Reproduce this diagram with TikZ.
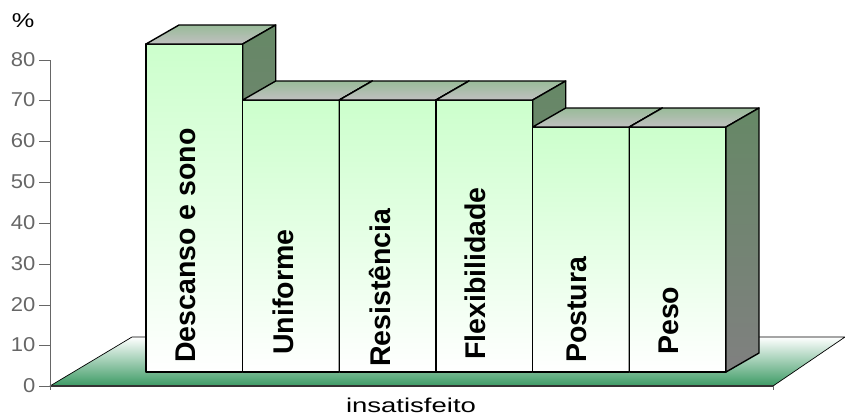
\documentclass[tikz,border=0pt]{standalone}
\usepackage{fontspec}
\setmainfont{Liberation Sans}
\usepackage{tikz}

\definecolor{barfront}{HTML}{CCFFCC}
\definecolor{bartop}{HTML}{99BB99}
\definecolor{bartoplow}{HTML}{C0C0C0}
\definecolor{barside}{HTML}{668866}
\definecolor{barsidelow}{HTML}{808080}
\definecolor{floorgreen}{HTML}{3C9A64}

\begin{document}
\begin{tikzpicture}[x=1pt,y=-1pt,
  face/.style={draw=black,line width=1.4pt,line join=round},
  front/.style={face,top color=barfront,bottom color=white},
  topface/.style={face,top color=bartop,bottom color=bartoplow},
  side/.style={face,top color=barside,bottom color=barsidelow},
  ticklabel/.style={font=\fontsize{20}{22}\selectfont,xscale=1.1,anchor=east,inner sep=0pt},
  barlabel/.style={font=\bfseries\fontsize{28.5}{32}\selectfont,rotate=90,anchor=base west,inner sep=0pt}]
\useasboundingbox (0,0) rectangle (845,416);

% floor
\begin{scope}
\clip (0,0) rectangle (845,416);
\draw[line width=0.7pt,top color=white,bottom color=floorgreen] (50,386) -- (132,337) -- (845,337) -- (773,386) -- cycle;
\end{scope}
\draw[line width=1.2pt,black!80] (50,386) -- (773,386);
\draw[line width=1pt,black!60] (773,386) -- (773,390);

% value axis
\draw[line width=1pt,black!60] (50,60) -- (50,390);
\foreach \v/\y in {0/386,10/345,20/305,30/264,40/223,50/182,60/141,70/100,80/60}
  \draw[line width=1pt,black!60] (39,\y) -- (50,\y) node[ticklabel] (t\v) at (36,\y) {\v};
\node[ticklabel,anchor=center,xscale=1.15] (pct) at (23,21) {\%};

% bars
\draw[front] (146,372) rectangle (242.7,44);
\draw[topface] (146,44) -- ++(33,-19) -- ++(96.7,0) -- ++(-33,19) -- cycle;
\draw[side] (242.7,44) -- ++(33,-19) -- (275.7,353) -- (242.7,372) -- cycle;

\draw[front] (242.7,372) rectangle (339.3,100);
\draw[topface] (242.7,100) -- ++(33,-19) -- ++(96.6,0) -- ++(-33,19) -- cycle;
\draw[side] (339.3,100) -- ++(33,-19) -- (372.3,353) -- (339.3,372) -- cycle;

\draw[front] (339.3,372) rectangle (436,100);
\draw[topface] (339.3,100) -- ++(33,-19) -- ++(96.7,0) -- ++(-33,19) -- cycle;
\draw[side] (436,100) -- ++(33,-19) -- (469,353) -- (436,372) -- cycle;

\draw[front] (436,372) rectangle (532.7,100);
\draw[topface] (436,100) -- ++(33,-19) -- ++(96.7,0) -- ++(-33,19) -- cycle;
\draw[side] (532.7,100) -- ++(33,-19) -- (565.7,353) -- (532.7,372) -- cycle;

\draw[front] (532.7,372) rectangle (629.3,127);
\draw[topface] (532.7,127) -- ++(33,-19) -- ++(96.6,0) -- ++(-33,19) -- cycle;
\draw[side] (629.3,127) -- ++(33,-19) -- (662.3,353) -- (629.3,372) -- cycle;

\draw[front] (629.3,372) rectangle (726,127);
\draw[topface] (629.3,127) -- ++(33,-19) -- ++(96.7,0) -- ++(-33,19) -- cycle;
\draw[side] (726,127) -- ++(33,-19) -- (759,353) -- (726,372) -- cycle;

% labels
\node[barlabel] (descanso) at (195,363) {Descanso e sono};
\node[barlabel] (uniforme) at (293,355) {Uniforme};
\node[barlabel] (resistencia) at (390,367) {Resistência};
\node[barlabel] (flexibilidade) at (485,360) {Flexibilidade};
\node[barlabel] (postura) at (586,363) {Postura};
\node[barlabel] (peso) at (678,355) {Peso};

\node[ticklabel,anchor=base,xscale=1.25] (cat) at (411,412.5) {insatisfeito};
\end{tikzpicture}
\end{document}
